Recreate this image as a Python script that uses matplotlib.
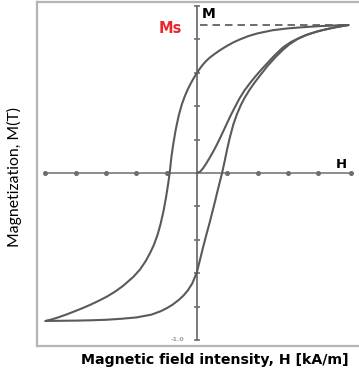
import numpy as np
import matplotlib
matplotlib.use('Agg')
from matplotlib import pyplot as plt

# Hysteresis loop (H in tick units, M in T)
ms = 0.886

# descending branch, from +saturation down to -saturation
h_down = [5.0, 4.5, 4.0, 3.5, 3.0, 2.5, 2.0, 1.7, 1.42, 1.2, 1.0, 0.8, 0.6, 0.43, 0.3,
          0.2, 0.1, 0.0, -0.1, -0.2, -0.3, -0.4, -0.5, -0.6, -0.7, -0.78, -0.84, -0.9,
          -0.95, -1.02, -1.1, -1.2, -1.3, -1.42, -1.55, -1.7, -1.88, -2.1, -2.44,
          -2.7, -2.97, -3.25, -3.53, -3.8, -4.09, -4.35, -4.62, -4.8, -5.0]
m_down = [0.886, 0.883, 0.879, 0.873, 0.866, 0.855, 0.836, 0.82, 0.8, 0.782, 0.762,
          0.74, 0.715, 0.692, 0.67, 0.65, 0.626, 0.599, 0.57, 0.538, 0.502, 0.46,
          0.41, 0.345, 0.26, 0.175, 0.1, 0.0, -0.065, -0.145, -0.225, -0.305, -0.37,
          -0.43, -0.48, -0.53, -0.578, -0.622, -0.676, -0.71, -0.74, -0.766, -0.79,
          -0.811, -0.832, -0.85, -0.867, -0.877, -0.886]

# ascending branch, from -saturation back up to +saturation
h_up = [-5.0, -4.5, -4.0, -3.5, -3.0, -2.5, -2.0, -1.5, -1.2, -1.0, -0.8, -0.6, -0.45,
        -0.3, -0.15, 0.0, 0.1, 0.2, 0.3, 0.43, 0.59, 0.7, 0.83, 0.92, 1.0, 1.09, 1.2,
        1.32, 1.45, 1.58, 1.75, 1.91, 2.1, 2.34, 2.6, 2.84, 3.05, 3.3, 3.6, 3.96,
        4.3, 4.62, 5.0]
m_up = [-0.886, -0.885, -0.884, -0.882, -0.879, -0.873, -0.865, -0.848, -0.828,
        -0.81, -0.788, -0.76, -0.735, -0.703, -0.66, -0.593, -0.52, -0.447, -0.377,
        -0.29, -0.175, -0.093, 0.0, 0.075, 0.145, 0.215, 0.29, 0.352, 0.407, 0.452,
        0.502, 0.543, 0.588, 0.643, 0.695, 0.738, 0.77, 0.8, 0.826, 0.847, 0.862,
        0.875, 0.886]

# initial magnetization curve from the demagnetized state
h_init = [0.0, 0.1, 0.2, 0.3, 0.4, 0.53, 0.65, 0.76, 0.88, 0.99, 1.12, 1.25, 1.4,
          1.58, 1.75, 1.91, 2.1, 2.31, 2.55, 2.84, 3.1, 3.4, 3.7, 4.06, 4.4, 4.72, 5.0]
m_init = [0.0, 0.007, 0.028, 0.055, 0.085, 0.126, 0.167, 0.208, 0.254, 0.297, 0.347,
          0.393, 0.445, 0.497, 0.538, 0.574, 0.614, 0.655, 0.702, 0.752, 0.784,
          0.811, 0.832, 0.852, 0.866, 0.877, 0.886]

h_ticks = [-5, -4, -3, -2, -1, 1, 2, 3, 4]
m_ticks = [-1.0, -0.8, -0.6, -0.4, -0.2, 0.2, 0.4, 0.6, 0.8, 1.0]

fig = plt.figure(figsize=(3.59, 3.74), dpi=100)
ax = fig.add_axes([37 / 359, 28 / 374, 322 / 359, 344 / 374])
ax.set_xlim(-5.28, 5.35)
ax.set_ylim(-1.036, 1.024)
ax.set_xticks([])
ax.set_yticks([])
for side in ['left', 'top', 'bottom']:
    ax.spines[side].set_color('#b4b4b4')
    ax.spines[side].set_linewidth(1.6)
ax.spines['right'].set_visible(False)

# coordinate axes through the origin
axis_col = '#6e6e6e'
ax.plot([-4.97, 5.07], [0, 0], color=axis_col, lw=1.1)
ax.plot([0, 0], [-1.0, 1.0], color=axis_col, lw=1.3)
ax.plot(h_ticks + [5.07], [0] * (len(h_ticks) + 1), ls='none', marker='o', ms=2.6, color=axis_col)
ax.plot([0] * len(m_ticks), m_ticks, ls='none', marker='_', ms=4, mew=1.2, color=axis_col)

# saturation level
ax.plot([0.1, 5.0], [ms, ms], color='#555555', lw=1.2, ls=(0, (4.5, 3)))

curve_col = '#5a5a5a'
ax.plot(h_down, m_down, color=curve_col, lw=1.5, solid_capstyle='round')
ax.plot(h_up, m_up, color=curve_col, lw=1.5, solid_capstyle='round')
ax.plot(h_init, m_init, color=curve_col, lw=1.5, solid_capstyle='round')

ax.text(0.17, 0.955, 'M', fontsize=10, fontweight='bold', ha='left', va='center')
ax.text(4.75, 0.05, 'H', fontsize=9.5, fontweight='bold', ha='center', va='center')
ax.text(-0.88, 0.868, 'Ms', fontsize=10.5, fontweight='bold', color='#e8262b', ha='center', va='center')
ax.text(-0.63, -1.0, '-1.0', fontsize=4.5, fontweight='bold', color='#9a9a9a', ha='center', va='center')

fig.text(14 / 359, 1 - 177 / 374, 'Magnetization, M(T)', rotation=90, fontsize=11.3,
         ha='center', va='center', family='Lato')
fig.text(215 / 359, 1 - 360 / 374, 'Magnetic field intensity, H [kA/m]', fontsize=10.2,
         fontweight='bold', ha='center', va='center')

fig.savefig('out.png', dpi=100)
